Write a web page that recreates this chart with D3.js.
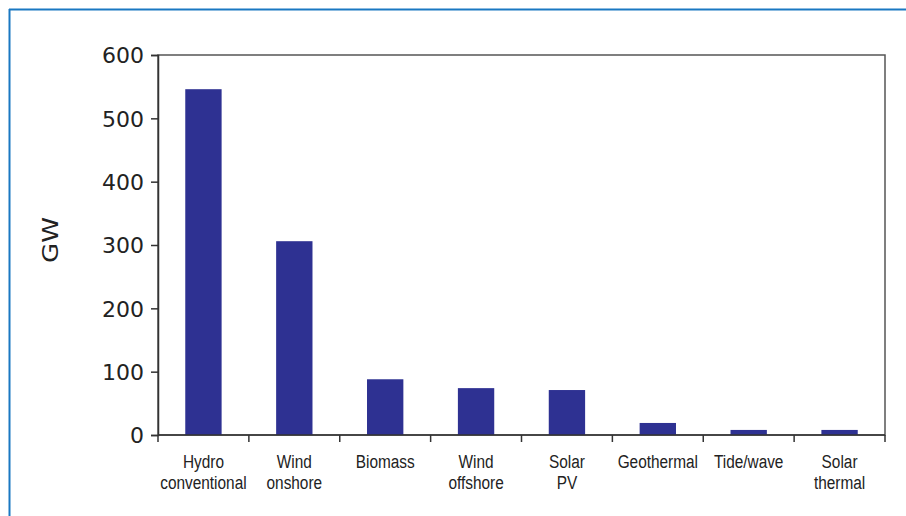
<!DOCTYPE html>
<html>
<head>
<meta charset="utf-8">
<script src="https://cdn.jsdelivr.net/npm/d3@7"></script>
<style>
  html, body { margin: 0; padding: 0; background: #fff; }
  svg { display: block; }
</style>
</head>
<body>
<svg id="chart" width="906" height="516"></svg>
<script>
// Installed renewable capacity by technology (GW)
const categories = [
  ["Hydro", "conventional"],
  ["Wind", "onshore"],
  ["Biomass"],
  ["Wind", "offshore"],
  ["Solar", "PV"],
  ["Geothermal"],
  ["Tide/wave"],
  ["Solar", "thermal"]
];
const capacityGW = [546, 306, 88, 74, 71, 19, 8, 8];
const yTicks = [0, 100, 200, 300, 400, 500, 600];
const yLabel = "GW";

const svg = d3.select("#chart");
const W = 906, H = 516;
const plot = { left: 158, right: 885, top: 55, bottom: 435 };

// outer frame: blue rule along the top and left edges
svg.append("line")
  .attr("x1", 9).attr("x2", W).attr("y1", 9.5).attr("y2", 9.5)
  .attr("stroke", "#1a78c2").attr("stroke-width", 2);
svg.append("line")
  .attr("x1", 9.5).attr("x2", 9.5).attr("y1", 9).attr("y2", H)
  .attr("stroke", "#1a78c2").attr("stroke-width", 2);

const keys = categories.map(c => c.join(" "));
const x = d3.scaleBand()
  .domain(keys)
  .range([plot.left, plot.right])
  .paddingInner(0.6)
  .paddingOuter(0.3);
const y = d3.scaleLinear().domain([0, 600]).range([plot.bottom, plot.top]);

// plot border (top and right)
svg.append("rect")
  .attr("x", plot.left).attr("y", plot.top)
  .attr("width", plot.right - plot.left).attr("height", plot.bottom - plot.top)
  .attr("fill", "none").attr("stroke", "#555").attr("stroke-width", 1.5);

// bars
svg.append("g").selectAll("rect")
  .data(capacityGW)
  .join("rect")
  .attr("x", (d, i) => x(keys[i]))
  .attr("y", d => y(d))
  .attr("width", x.bandwidth())
  .attr("height", d => y(0) - y(d))
  .attr("fill", "#2e3192");

// y axis
const yAxis = svg.append("g")
  .attr("transform", `translate(${plot.left},0)`)
  .call(d3.axisLeft(y).tickValues(yTicks).tickSize(7).tickPadding(7).tickFormat(d3.format("d")));
yAxis.select(".domain").attr("stroke", "#333").attr("stroke-width", 1.5);
yAxis.selectAll(".tick line").attr("stroke", "#333").attr("stroke-width", 1.5);
yAxis.selectAll(".tick text")
  .attr("fill", "#222")
  .style("font-family", "'DejaVu Sans', sans-serif")
  .style("font-size", "22px")
  .attr("dy", "0.36em");

// x axis: ticks at band boundaries
const step = x.step();
const x0 = x(keys[0]) - x.paddingOuter() * step;
const edges = d3.range(keys.length + 1).map(i => x0 + i * step);
const xg = svg.append("g");
xg.append("line")
  .attr("x1", plot.left).attr("x2", plot.right)
  .attr("y1", plot.bottom).attr("y2", plot.bottom)
  .attr("stroke", "#333").attr("stroke-width", 1.5);
xg.selectAll("line.tk")
  .data(edges)
  .join("line")
  .attr("class", "tk")
  .attr("x1", d => d).attr("x2", d => d)
  .attr("y1", plot.bottom).attr("y2", plot.bottom + 7)
  .attr("stroke", "#333").attr("stroke-width", 1.5);

// category labels, set in a condensed face
const labels = svg.append("g")
  .style("font-family", "'Liberation Sans', Arial, sans-serif")
  .style("font-size", "19px")
  .attr("fill", "#222")
  .attr("text-anchor", "middle");
categories.forEach((lines, i) => {
  const cx = x(keys[i]) + x.bandwidth() / 2;
  const t = labels.append("text")
    .attr("transform", `translate(${cx},0) scale(0.81,1)`);
  lines.forEach((ln, j) => {
    t.append("tspan").attr("x", 0).attr("y", 468 + j * 21).text(ln);
  });
});

// y axis title
svg.append("text")
  .attr("transform", "translate(58,240) rotate(-90)")
  .attr("text-anchor", "middle")
  .attr("fill", "#222")
  .style("font-family", "'DejaVu Sans', sans-serif")
  .style("font-size", "22px")
  .attr("textLength", 46)
  .attr("lengthAdjust", "spacingAndGlyphs")
  .text(yLabel);
</script>
</body>
</html>
